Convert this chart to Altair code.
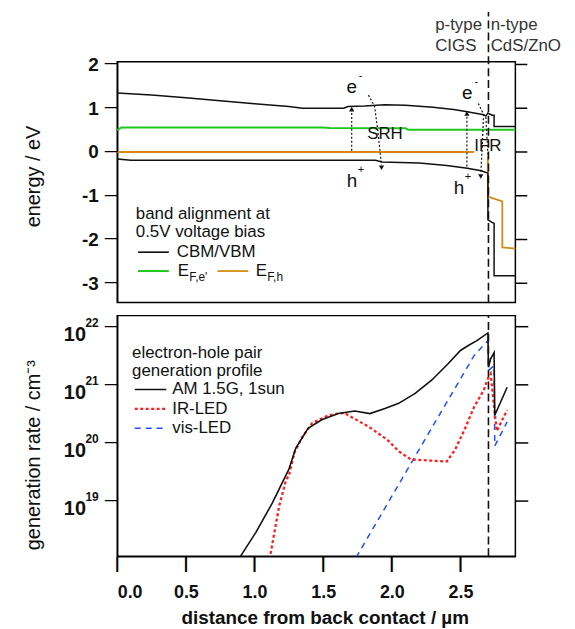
import altair as alt
import pandas as pd

FONT = "Liberation Sans"
INK = "#111111"
W, H = 401, 242.4

# ---------------- top panel: band alignment ----------------
x_cbm = [0.0, 0.25, 0.5, 0.75, 1.0, 1.25, 1.35, 1.65, 1.68, 1.8, 1.95, 2.1, 2.3, 2.45, 2.55, 2.62, 2.67, 2.685, 2.70, 2.73, 2.745, 2.745, 2.90]
e_cbm = [1.35, 1.30, 1.24, 1.17, 1.10, 1.04, 1.00, 1.00, 1.04, 1.05, 1.08, 1.07, 1.02, 0.97, 0.92, 0.88, 0.85, 0.82, 0.89, 0.84, 0.84, 0.58, 0.58]
x_vbm = [0.0, 0.1, 1.88, 1.93, 2.2, 2.4, 2.55, 2.65, 2.70, 2.70, 2.73, 2.745, 2.745, 2.90]
e_vbm = [-0.16, -0.19, -0.19, -0.23, -0.25, -0.31, -0.37, -0.43, -0.48, -1.55, -1.61, -1.63, -2.83, -2.83]
x_efe = [0.0, 0.03, 1.5, 1.55, 2.1, 2.12, 2.90]
e_efe = [0.50, 0.56, 0.56, 0.55, 0.54, 0.51, 0.51]
x_efh_p = [0.0, 2.60]
e_efh_p = [0.0, 0.0]
x_efh_n = [2.70, 2.70, 2.805, 2.805, 2.90]
e_efh_n = [-0.10, -1.02, -1.13, -2.18, -2.21]

interface_x = 2.704

# recombination arrows (dotted paths)
arrow_x = {
    "srh_up": [1.708, 1.708],
    "srh_curve": [1.83, 1.875, 1.90, 1.925],
    "ifr_up": [2.547, 2.547],
    "ifr_curve": [2.63, 2.668, 2.66, 2.648],
    "ifr_short": [2.685, 2.70],
}
arrow_y = {
    "srh_up": [0.03, 0.98],
    "srh_curve": [1.30, 1.04, 0.43, -0.30],
    "ifr_up": [-0.33, 0.88],
    "ifr_curve": [1.11, 0.86, 0.20, -0.50],
    "ifr_short": [0.80, -0.06],
}
head_x = [1.708, 1.925, 2.547, 2.648]
head_y = [0.98, -0.36, 0.88, -0.56]
head_shape = ["triangle-up", "triangle-down", "triangle-up", "triangle-down"]

carrier_text = ["e", "e", "h", "h"]
carrier_x = [1.708, 2.55, 1.71, 2.49]
carrier_y = [1.49, 1.34, -0.66, -0.82]
carrier_sup = ["-", "-", "+", "+"]
mech_text = ["SRH", "IFR"]
mech_x = [1.95, 2.70]
mech_y = [0.41, 0.13]
region_text = ["p-type", "CIGS", "n-type", "CdS/ZnO"]
region_x = [2.316, 2.316, 2.72, 2.72]
region_y = [2.89, 2.43, 2.89, 2.43]

energy_ticks = [-3, -2, -1, 0, 1, 2]

# ---------------- bottom panel: generation profile ----------------
x_am = [0.89, 1.01, 1.13, 1.25, 1.30, 1.39, 1.49, 1.61, 1.73, 1.84, 1.95, 2.05, 2.17, 2.29, 2.41, 2.50, 2.56, 2.62, 2.70, 2.704, 2.72, 2.745, 2.75, 2.84]
g_am = [1.05e18, 2.9e18, 9.3e18, 3.5e19, 8.1e19, 1.78e20, 2.5e20, 3.2e20, 3.55e20, 3.2e20, 3.9e20, 4.8e20, 7.1e20, 1.2e21, 2.3e21, 3.9e21, 4.8e21, 5.75e21, 7.8e21, 2.0e21, 2.8e21, 3.6e21, 3.0e20, 9.1e20]
x_ir = [1.11, 1.14, 1.18, 1.23, 1.25, 1.29, 1.35, 1.42, 1.54, 1.65, 1.73, 1.85, 1.97, 2.05, 2.14, 2.26, 2.40, 2.46, 2.53, 2.60, 2.67, 2.70, 2.72, 2.75, 2.765, 2.84]
g_ir = [1.0e18, 2.5e18, 8.3e18, 2.34e19, 2.7e19, 6.8e19, 1.29e20, 2.19e20, 3.0e20, 3.3e20, 2.6e20, 1.78e20, 1.12e20, 7.2e19, 5.2e19, 5.0e19, 4.8e19, 7.6e19, 1.7e20, 4.2e20, 8.1e20, 1.29e21, 1.55e21, 3.2e20, 1.6e20, 3.7e20]
x_vis = [1.74, 2.17, 2.60, 2.70, 2.705, 2.745, 2.75, 2.84]
g_vis = [1.07e18, 5.9e19, 3.2e21, 5.75e21, 1.78e21, 2.14e21, 8.9e19, 2.3e20]

gen_ticks = [1e19, 1e20, 1e21, 1e22]
gen_exp = ["19", "20", "21", "22"]
dist_ticks = [0.0, 0.5, 1.0, 1.5, 2.0, 2.5]
gen_domain = [1.122e18, 1.55e22]

# ---------------- helpers ----------------
def series(xs, ys, name):
    return pd.DataFrame({"x": xs, "y": ys, "i": list(range(len(xs))), "s": name})

xs_top = alt.Scale(domain=[0, 2.9], nice=False, zero=False)
ys_top = alt.Scale(domain=[-3.44, 2.06], nice=False, zero=False)
xs_bot = alt.Scale(domain=[0, 2.9], nice=False, zero=False)
ys_bot = alt.Scale(type="log", domain=gen_domain, nice=False)

y_axis_top = alt.Axis(
    values=energy_ticks, labelExpr="'' + datum.value", labelFontSize=19,
    labelFontWeight="bold", labelPadding=19, ticks=False,
    title="energy / eV",
    titleFontSize=20, titleFontWeight="normal", titleX=-84, titleY=115,
    titleAngle=270, titleAlign="center", titleBaseline="middle")
y_axis_bot = alt.Axis(
    values=gen_ticks, labelExpr="'10'", labelFontSize=20, labelFontWeight="bold",
    labelPadding=32, labelOffset=8, ticks=False,
    title="generation rate / cm⁻³",
    titleFontSize=20, titleFontWeight="normal", titleX=-84, titleY=140,
    titleAngle=270, titleAlign="center", titleBaseline="middle")
x_axis_bot = alt.Axis(
    values=dist_ticks, format=".1f", labelFontSize=18, labelFontWeight="bold",
    labelPadding=27, ticks=False,
    title="distance from back contact / µm",
    titleFontSize=19, titleFontWeight="bold", titleX=209, titleY=62,
    titleAlign="center", titleBaseline="middle")

def XT():
    return alt.X("x:Q", scale=xs_top, axis=None)

def YT():
    return alt.Y("y:Q", scale=ys_top, axis=y_axis_top)

def XB():
    return alt.X("x:Q", scale=xs_bot, axis=x_axis_bot)

def YB():
    return alt.Y("y:Q", scale=ys_bot, axis=y_axis_bot)

one = alt.Data(values=[{"a": 1}])

def txt(x, y, s, size=17, weight="normal", align="left", color=INK, dy=0):
    return alt.Chart(one).mark_text(
        text=s, fontSize=size, font=FONT, fontWeight=weight, align=align,
        baseline="middle", color=color, dy=dy
    ).encode(x=alt.value(x), y=alt.value(y))

def sample(x1, x2, y, color, width=1.6, dash=None):
    kw = dict(color=color, strokeWidth=width)
    if dash:
        kw["strokeDash"] = dash
    return alt.Chart(one).mark_rule(**kw).encode(
        x=alt.value(x1), x2=alt.value(x2), y=alt.value(y))

def yticks_rule(vals, yenc, x1, x2):
    return alt.Chart(pd.DataFrame({"y": vals})).mark_rule(
        color="black", strokeWidth=1.5, clip=False).encode(
        x=alt.value(x1), x2=alt.value(x2), y=yenc)

def yticks_glyph(vals, yenc, xc):
    # outward tick drawn as a dash glyph centred on the tick position
    return alt.Chart(pd.DataFrame({"y": vals})).mark_text(
        text="—", fontSize=13, fontWeight="bold", font=FONT, color="black",
        align="center", baseline="middle", dy=-1).encode(
        x=alt.value(xc), y=yenc)

# ---------------- top panel ----------------
efh = pd.concat([series(x_efh_p, e_efh_p, "p"), series(x_efh_n, e_efh_n, "n")])
bands = pd.concat([series(x_cbm, e_cbm, "CBM"), series(x_vbm, e_vbm, "VBM")])
arrows = pd.concat([series(arrow_x[k], arrow_y[k], k) for k in arrow_x])

l_efh = alt.Chart(efh).mark_line(color="#d38b17", strokeWidth=1.8).encode(
    x=XT(), y=YT(), detail="s:N", order="i:Q")
l_efe = alt.Chart(series(x_efe, e_efe, "efe")).mark_line(color="#1ec81e", strokeWidth=2).encode(
    x=XT(), y=YT(), order="i:Q")
l_bands = alt.Chart(bands).mark_line(color=INK, strokeWidth=1.5).encode(
    x=XT(), y=YT(), detail="s:N", order="i:Q")
l_arrows = alt.Chart(arrows).mark_line(color=INK, strokeWidth=1.2, strokeDash=[2, 2]).encode(
    x=XT(), y=YT(), detail="s:N", order="i:Q")
l_heads = alt.Chart(pd.DataFrame({"x": head_x, "y": head_y, "sh": head_shape})).mark_point(
    filled=True, size=28, color=INK, opacity=1).encode(
    x=XT(), y=YT(), shape=alt.Shape("sh:N", scale=None))
l_vline_top = alt.Chart(pd.DataFrame({"x": [interface_x], "y": [-3.44], "y2": [3.20]})).mark_rule(
    color=INK, strokeWidth=1.6, strokeDash=[8, 4], clip=False).encode(
    x=XT(), y=YT(), y2="y2:Q")
carrier_df = pd.DataFrame({"x": carrier_x, "y": carrier_y, "t": carrier_text, "sup": carrier_sup})
l_carrier = alt.Chart(carrier_df).mark_text(fontSize=19, font=FONT, color=INK, baseline="middle").encode(
    x=XT(), y=YT(), text="t:N")
l_sup = alt.Chart(carrier_df).mark_text(fontSize=11, font=FONT, color=INK, baseline="middle", dx=9, dy=-11).encode(
    x=XT(), y=YT(), text="sup:N")
l_mech = alt.Chart(pd.DataFrame({"x": mech_x, "y": mech_y, "t": mech_text})).mark_text(
    fontSize=17, font=FONT, color=INK, baseline="middle").encode(
    x=XT(), y=YT(), text="t:N")
l_region = alt.Chart(pd.DataFrame({"x": region_x, "y": region_y, "t": region_text})).mark_text(
    fontSize=17, font=FONT, color="#333333", baseline="middle", align="left").encode(
    x=XT(), y=YT(), text="t:N")
l_lticks_top = yticks_glyph(energy_ticks, YT(), -6)
l_rticks_top = yticks_rule(energy_ticks, YT(), W, W + 12)

leg_top = [
    txt(18.7, 153.4, "band alignment at"),
    txt(18.7, 171.7, "0.5V voltage bias"),
    sample(21, 52, 191.7, INK),
    txt(60, 191.7, "CBM/VBM"),
    sample(21, 52, 210.7, "#1ec81e", 2),
    txt(61, 210.7, "E"),
    txt(72.5, 210.7, "F,e'", size=12, dy=6),
    sample(101, 132, 210.7, "#d38b17", 1.8),
    txt(139.5, 210.7, "E"),
    txt(151, 210.7, "F,h", size=12, dy=6),
]

top = alt.layer(l_efh, l_efe, l_bands, l_arrows, l_heads, l_vline_top,
                l_carrier, l_sup, l_mech, l_region, l_lticks_top, l_rticks_top,
                *leg_top).properties(width=W, height=H)

# ---------------- bottom panel ----------------
l_vline_bot = alt.Chart(pd.DataFrame({"x": [interface_x], "y": [gen_domain[0]], "y2": [gen_domain[1]]})).mark_rule(
    color=INK, strokeWidth=1.6, strokeDash=[8, 4]).encode(
    x=XB(), y=YB(), y2="y2:Q")
l_vis = alt.Chart(series(x_vis, g_vis, "vis")).mark_line(
    color="#2050ff", strokeWidth=1.5, strokeDash=[6, 5], clip=True).encode(
    x=XB(), y=YB(), order="i:Q")
l_ir = alt.Chart(series(x_ir, g_ir, "ir")).mark_line(
    color="#ff1f1f", strokeWidth=2.3, strokeDash=[3, 2.5], clip=True).encode(
    x=XB(), y=YB(), order="i:Q")
l_am = alt.Chart(series(x_am, g_am, "am")).mark_line(color=INK, strokeWidth=1.6, clip=True).encode(
    x=XB(), y=YB(), order="i:Q")
l_exp = alt.Chart(pd.DataFrame({"y": gen_ticks, "t": gen_exp})).mark_text(
    fontSize=12, font=FONT, fontWeight="bold", align="left", baseline="middle", dy=-4, color=INK).encode(
    x=alt.value(-32), y=YB(), text="t:N")
l_lticks_bot = yticks_glyph(gen_ticks, YB(), -6)
l_rticks_bot = yticks_rule(gen_ticks, YB(), W, W + 13)
l_xticks_bot = alt.Chart(pd.DataFrame({"x": dist_ticks})).mark_text(
    text="|", fontSize=16, fontWeight="bold", font=FONT, color="black",
    align="center", baseline="middle").encode(
    x=XB(), y=alt.value(H + 8))

leg_bot = [
    txt(15, 37.4, "electron-hole pair"),
    txt(15, 55.7, "generation profile"),
    sample(17.7, 49.4, 74.4, INK, 1.6),
    txt(55.4, 74.4, "AM 1.5G, 1sun"),
    sample(17.7, 49.4, 94, "#ff1f1f", 2.3, [3, 2.5]),
    txt(55.4, 94, "IR-LED"),
    sample(17.7, 49.4, 113.4, "#2050ff", 1.5, [6, 5]),
    txt(55.4, 113.4, "vis-LED"),
]

bottom = alt.layer(l_vline_bot, l_vis, l_ir, l_am, l_exp, l_lticks_bot, l_rticks_bot,
                   l_xticks_bot, *leg_bot).properties(width=W, height=H)

chart = alt.VConcatChart(vconcat=[top, bottom], spacing=12.6, bounds="flush").properties(
    padding={"left": 15, "top": 0, "right": 5, "bottom": 0}
).configure_view(stroke="black", strokeWidth=1.5).configure_axis(
    domainColor="black", domainWidth=1.5, grid=False, labelFont=FONT,
    titleFont=FONT, labelColor=INK, titleColor=INK
)

chart.save("out.html", embed_options={"renderer": "svg", "actions": False})
